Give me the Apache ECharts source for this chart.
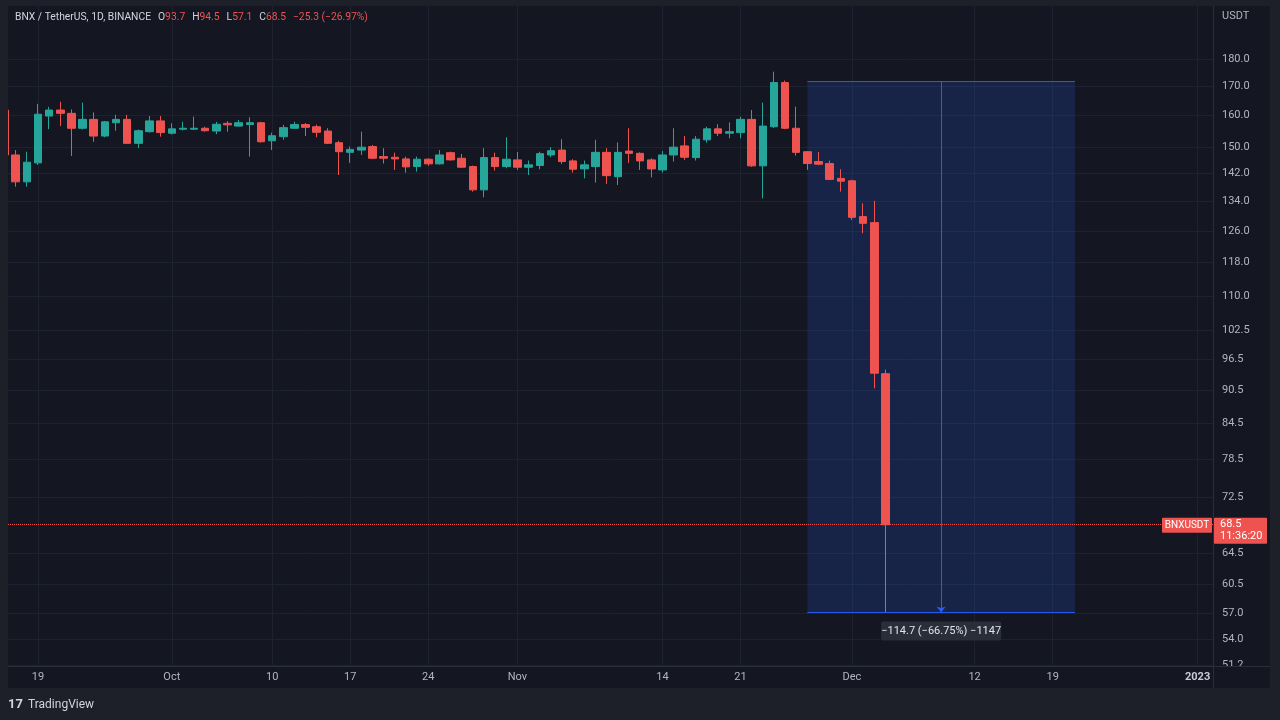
<!DOCTYPE html>
<html>
<head>
<meta charset="utf-8">
<script src="https://cdn.jsdelivr.net/npm/echarts@6/dist/echarts.min.js"></script>
<style>
html,body{margin:0;padding:0;background:#141722;}
#c{width:1280px;height:720px;}
</style>
</head>
<body>
<div id="c"></div>
<script>
// ---- data (BNX/USDT, 1D, Binance) ----
const dates = [
'2022-09-16','2022-09-17','2022-09-18','2022-09-19','2022-09-20','2022-09-21','2022-09-22','2022-09-23','2022-09-24','2022-09-25','2022-09-26','2022-09-27','2022-09-28','2022-09-29','2022-09-30',
'2022-10-01','2022-10-02','2022-10-03','2022-10-04','2022-10-05','2022-10-06','2022-10-07','2022-10-08','2022-10-09','2022-10-10','2022-10-11','2022-10-12','2022-10-13','2022-10-14','2022-10-15','2022-10-16','2022-10-17','2022-10-18','2022-10-19','2022-10-20','2022-10-21','2022-10-22','2022-10-23','2022-10-24','2022-10-25','2022-10-26','2022-10-27','2022-10-28','2022-10-29','2022-10-30','2022-10-31',
'2022-11-01','2022-11-02','2022-11-03','2022-11-04','2022-11-05','2022-11-06','2022-11-07','2022-11-08','2022-11-09','2022-11-10','2022-11-11','2022-11-12','2022-11-13','2022-11-14','2022-11-15','2022-11-16','2022-11-17','2022-11-18','2022-11-19','2022-11-20','2022-11-21','2022-11-22','2022-11-23','2022-11-24','2022-11-25','2022-11-26','2022-11-27','2022-11-28','2022-11-29','2022-11-30',
'2022-12-01','2022-12-02','2022-12-03','2022-12-04'
];
const opens = [
161.9,147.5,139.5,145.1,159.9,161.9,160.8,155.9,158.8,153.4,157.7,158.8,151.1,154.8,158.3,
154.3,155.6,155.6,155.9,155.0,157.5,156.6,157.1,157.7,151.9,153.2,155.9,157.1,156.4,155.0,151.3,148.3,149.0,150.1,147.0,146.8,146.3,144.0,146.2,144.8,148.2,146.5,144.0,137.2,146.7,144.0,
146.0,143.8,144.3,147.5,149.0,145.7,143.3,144.0,148.3,141.0,148.7,148.0,146.0,143.0,147.5,150.3,146.7,152.2,155.7,154.3,154.5,158.8,144.2,156.4,171.4,155.9,148.5,145.5,144.9,140.5,
139.8,129.8,128.2,93.7
];
const highs = [
162.6,149.0,148.5,164.0,163.0,164.7,162.1,164.4,161.1,158.3,160.3,160.3,155.5,159.9,159.9,
157.5,158.0,159.7,156.4,158.0,158.2,158.6,159.5,158.0,154.5,157.0,158.0,157.6,157.1,155.9,151.9,150.1,154.8,150.6,149.6,148.2,147.0,147.0,146.5,149.0,148.5,147.8,144.3,149.6,148.2,153.0,
148.4,145.8,148.5,149.9,152.4,146.2,145.8,152.2,149.6,151.4,155.9,148.3,146.5,148.7,155.9,153.4,153.4,156.4,157.2,157.8,159.7,161.9,164.4,175.3,172.1,163.0,148.7,148.4,145.8,143.2,
140.1,133.4,134.1,94.5
];
const lows = [
146.9,138.1,138.1,144.5,155.6,156.6,147.2,155.5,151.6,153.0,155.1,151.0,149.6,154.5,153.2,
153.9,155.2,155.3,154.8,154.0,154.8,156.5,147.0,151.3,149.0,152.2,155.7,153.4,153.0,150.9,141.5,145.1,147.5,146.2,144.9,143.0,142.2,142.5,144.2,144.6,145.8,143.6,136.7,135.1,142.8,143.5,
143.0,141.5,143.2,146.8,144.8,142.2,140.5,139.3,138.9,138.6,145.1,143.0,140.8,142.2,145.5,146.0,145.8,151.3,153.4,152.7,152.7,143.9,134.8,156.0,155.6,147.3,143.0,144.4,140.0,136.7,
128.9,125.4,90.9,57.1
];
const closes = [
147.5,139.5,145.3,160.5,161.9,160.8,155.9,158.8,153.4,158.0,158.8,151.1,155.1,158.3,154.5,
155.7,155.9,155.9,155.1,157.2,157.0,157.7,157.7,151.6,153.5,156.1,157.1,156.2,154.6,151.1,148.5,149.2,149.9,146.5,146.5,146.3,143.9,146.2,144.8,147.5,146.0,143.8,137.2,146.7,144.0,146.2,
143.8,144.5,147.9,148.8,145.5,143.2,144.5,148.3,141.3,148.3,148.0,145.7,143.3,147.5,149.9,146.8,152.4,155.7,154.3,154.8,158.8,144.2,156.6,171.4,155.9,148.3,144.9,144.7,140.2,139.7,
129.6,128.0,93.8,68.5
];

const xTickDates  = ['2022-09-19','2022-10-01','2022-10-10','2022-10-17','2022-10-24','2022-11-01','2022-11-14','2022-11-21','2022-12-01','2022-12-12','2022-12-19','2023-01-01'];
const xTickLabels = ['19','Oct','10','17','24','Nov','14','21','Dec','12','19','2023'];
const yTicks = [180,170,160,150,142,134,126,118,110,102.5,96.5,90.5,84.5,78.5,72.5,64.5,60.5,57,54,51.2];

// price-range measurement drawn on the chart
const measureStart = '2022-11-27';
const measureEnd   = '2022-12-21';
const measureMid   = '2022-12-09';
const measureTop   = 171.8;
const measureBottom = 57.1;
const measureText  = '\u2212114.7 (\u221266.75%) \u22121147';

const symbolText = 'BNXUSDT';
const countdownText = '11:36:20';

// ---- build ----
const DAY = 86400000;
const t0 = Date.parse(dates[0] + 'T00:00:00Z');
const D = s => Math.round((Date.parse(s + 'T00:00:00Z') - t0) / DAY); // day index on the x axis
const candles = dates.map((d, i) => [D(d), opens[i], closes[i], lows[i], highs[i]]);
const xTickDays = xTickDates.map(D);

const n = closes.length;
const lastO = opens[n-1], lastH = highs[n-1], lastL = lows[n-1], lastC = closes[n-1];
const chg = lastC - closes[n-2];
const pct = chg / closes[n-2] * 100;
const neg = v => (v < 0 ? '\u2212' : '') + Math.abs(v);
const headerText =
  '{a|BNX / TetherUS, 1D, BINANCE}' +
  '{k|O}{v|' + lastO.toFixed(1) + '}' +
  '{k|H}{v|' + lastH.toFixed(1) + '}' +
  '{k|L}{v|' + lastL.toFixed(1) + '}' +
  '{k|C}{v|' + lastC.toFixed(1) + '}' +
  '{c|' + neg(Number(chg.toFixed(1))) + ' (' + neg(Number(pct.toFixed(2))) + '%)}';

const RED = '#ef5350', GREEN = '#26a69a';
const TXT = '#b2b5be', GRIDC = '#1e2230', SEP = '#2a2e39';
const FONT = 'Roboto, "Noto Sans", sans-serif';
const OUTER = '#1e2029';
const PANE = '#141722';
const BLUE = '#2962ff';

const chart = echarts.init(document.getElementById('c'), null, {renderer: 'canvas'});

const HF = 10.3;
const option = {
  backgroundColor: PANE,
  animation: false,
  textStyle: {fontFamily: FONT},
  title: {
    left: 10, top: 7,
    text: headerText,
    textStyle: {
      fontSize: HF, fontWeight: 'normal', fontFamily: FONT,
      rich: {
        a: {color: '#d1d4dc', fontSize: HF, fontFamily: FONT},
        k: {color: '#d1d4dc', fontSize: HF, fontFamily: FONT, padding: [0, 0, 0, 7]},
        v: {color: RED, fontSize: HF, fontFamily: FONT},
        c: {color: RED, fontSize: HF, fontFamily: FONT, padding: [0, 0, 0, 7]}
      }
    }
  },
  grid: {left: 8, right: 67, top: 6, bottom: 54, containLabel: false, outerBoundsMode: 'none'},
  xAxis: {
    type: 'value',
    min: 0.31,
    max: 108.38,
    axisLine: {show: true, onZero: false, lineStyle: {color: SEP, width: 1}},
    axisTick: {show: false, customValues: xTickDays},
    axisLabel: {
      customValues: xTickDays,
      color: TXT, fontSize: 11, margin: 6, fontFamily: FONT,
      formatter: function (v) {
        const i = xTickDays.indexOf(Math.round(v));
        const s = i >= 0 ? xTickLabels[i] : '';
        return /^\d{4}$/.test(s) ? '{b|' + s + '}' : s;
      },
      rich: {b: {fontWeight: 'bold', color: '#c8cbd3', fontSize: 11, fontFamily: FONT}}
    },
    splitLine: {show: true, lineStyle: {color: GRIDC, width: 1}}
  },
  yAxis: {
    type: 'log',
    logBase: 10,
    position: 'right',
    min: 51.1,
    max: 200.9,
    axisLine: {show: true, lineStyle: {color: SEP, width: 1}},
    axisTick: {show: false, customValues: yTicks},
    axisLabel: {
      customValues: yTicks,
      color: TXT, fontSize: 11, margin: 9, fontFamily: FONT,
      formatter: v => Number(v).toFixed(1)
    },
    splitLine: {show: true, lineStyle: {color: GRIDC, width: 1}}
  },
  series: [{
    type: 'candlestick',
    data: candles,
    encode: {x: 0, y: [1, 2, 3, 4]},
    barWidth: 8,
    clip: true,
    itemStyle: {
      color: GREEN, color0: RED,
      borderColor: GREEN, borderColor0: RED,
      borderColorDoji: GREEN,
      borderWidth: 1
    },
    markArea: {
      silent: true,
      itemStyle: {color: 'rgba(41,98,255,0.17)'},
      data: [[{coord: [D(measureStart), measureTop]}, {coord: [D(measureEnd), measureBottom]}]]
    },
    markLine: {
      silent: true,
      symbol: ['none', 'none'],
      label: {show: false},
      lineStyle: {color: BLUE, width: 1, type: 'solid', opacity: 0.9},
      emphasis: {disabled: true},
      data: [
        [{coord: [D(measureStart), measureTop]}, {coord: [D(measureEnd), measureTop]}],
        [{coord: [D(measureStart), measureBottom]}, {coord: [D(measureEnd), measureBottom]}],
        [{coord: [D(measureMid), measureTop], symbol: 'none'},
         {coord: [D(measureMid), measureBottom], symbol: 'arrow', symbolSize: [7, 6]}],
        {yAxis: lastC, lineStyle: {color: RED, type: 'dotted', width: 1, opacity: 1}}
      ]
    }
  }]
};
chart.setOption(option);

// annotation labels positioned through the chart's own scales
const yLast = chart.convertToPixel({yAxisIndex: 0}, lastC);
const pb = chart.convertToPixel({gridIndex: 0}, [D(measureMid), measureBottom]);
const gridRight = 1213;

chart.setOption({
  graphic: [
    {type: 'rect', silent: true, z: 100, shape: {x: 0, y: 0, width: 1280, height: 6}, style: {fill: OUTER}},
    {type: 'rect', silent: true, z: 100, shape: {x: 0, y: 0, width: 8, height: 720}, style: {fill: OUTER}},
    {type: 'rect', silent: true, z: 100, shape: {x: 1270, y: 0, width: 10, height: 720}, style: {fill: OUTER}},
    {type: 'rect', silent: true, z: 100, shape: {x: 0, y: 688, width: 1280, height: 32}, style: {fill: OUTER}},
    {type: 'rect', silent: true, z: 100, shape: {x: gridRight + 1, y: 667, width: 56, height: 21}, style: {fill: PANE}},
    {type: 'line', silent: true, z: 101, shape: {x1: gridRight, y1: 666.5, x2: 1270, y2: 666.5}, style: {stroke: SEP, lineWidth: 1}},
    {type: 'line', silent: true, z: 101, shape: {x1: gridRight + 0.5, y1: 666, x2: gridRight + 0.5, y2: 688}, style: {stroke: SEP, lineWidth: 1}},
    {type: 'text', silent: true, z: 101, x: 1222, y: 16, style: {text: 'USDT', fill: TXT, font: '11px ' + FONT, verticalAlign: 'middle'}},
    {type: 'rect', silent: true, z: 101, shape: {x: 1162, y: yLast - 7, width: 50, height: 15, r: 1}, style: {fill: RED}},
    {type: 'text', silent: true, z: 102, x: 1187, y: yLast + 0.5, style: {text: symbolText, fill: '#ffffff', font: '10px ' + FONT, align: 'center', verticalAlign: 'middle'}},
    {type: 'rect', silent: true, z: 101, shape: {x: gridRight + 1, y: yLast - 7, width: 53, height: 26, r: 1}, style: {fill: RED}},
    {type: 'text', silent: true, z: 102, x: 1220, y: yLast, style: {text: lastC.toFixed(1), fill: '#ffffff', font: '11px ' + FONT, verticalAlign: 'middle'}},
    {type: 'text', silent: true, z: 102, x: 1220, y: yLast + 12, style: {text: countdownText, fill: '#ffffff', font: '11px ' + FONT, verticalAlign: 'middle'}},
    {type: 'rect', silent: true, z: 101, shape: {x: pb[0] - 60, y: pb[1] + 9, width: 120, height: 19, r: 2}, style: {fill: '#2a2e39'}},
    {type: 'text', silent: true, z: 102, x: pb[0], y: pb[1] + 18.5, style: {text: measureText, fill: '#e0e3eb', font: '11px ' + FONT, align: 'center', verticalAlign: 'middle'}},
    {type: 'text', silent: true, z: 102, x: 8, y: 705, style: {text: '17', fill: '#d1d4dc', font: 'bold 13px ' + FONT, verticalAlign: 'middle'}},
    {type: 'text', silent: true, z: 102, x: 28, y: 705, style: {text: 'TradingView', fill: '#d1d4dc', font: '12px ' + FONT, verticalAlign: 'middle'}}
  ]
});
</script>
</body>
</html>
